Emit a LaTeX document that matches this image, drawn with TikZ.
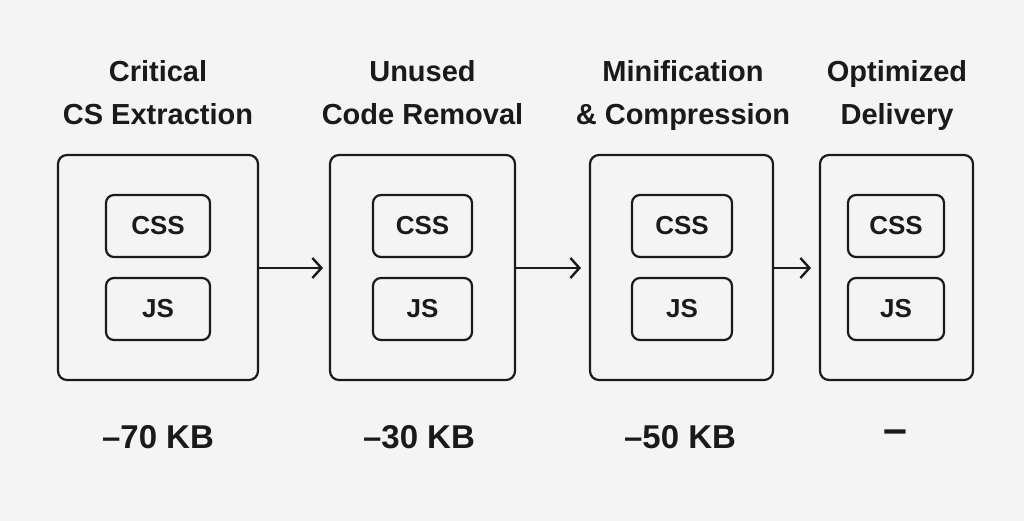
\documentclass[tikz,border=0pt]{standalone}
\usepackage{fontspec}
\setmainfont{Liberation Sans}
\usetikzlibrary{arrows.meta}
\definecolor{bgGray}{HTML}{F4F4F4}
\definecolor{inkGray}{HTML}{1A1A1A}
\begin{document}
\begin{tikzpicture}[x=1pt,y=-1pt]
  \tikzset{StageStyle/.style = {
    draw          = inkGray,
    line width    = 2.2pt,
    rounded corners = 9pt,
    fill          = bgGray
    }
  }
  \tikzset{FileStyle/.style = {
    draw          = inkGray,
    line width    = 2.2pt,
    rounded corners = 8pt,
    text          = inkGray,
    font          = \bfseries\fontsize{26}{26}\selectfont
    }
  }
  \tikzset{TitleStyle/.style = {
    text          = inkGray,
    align         = center,
    font          = \bfseries\fontsize{29}{43}\selectfont
    }
  }
  \tikzset{SaveStyle/.style = {
    text          = inkGray,
    font          = \bfseries\fontsize{33}{33}\selectfont
    }
  }
  \tikzset{FlowStyle/.style = {
    draw          = inkGray,
    line width    = 2.4pt,
    -{Straight Barb[length=9pt,width=20pt]}
    }
  }

  \fill[bgGray] (0,0) rectangle (1024,521);

  % stages
  \node[StageStyle, minimum width=200pt, minimum height=225pt](S1) at (158, 267.5) {};
  \node[StageStyle, minimum width=185pt, minimum height=225pt](S2) at (422.5, 267.5) {};
  \node[StageStyle, minimum width=183pt, minimum height=225pt](S3) at (681.5, 267.5) {};
  \node[StageStyle, minimum width=153pt, minimum height=225pt](S4) at (896.5, 267.5) {};

  % files
  \node[FileStyle, minimum width=104pt, minimum height=62pt](C1) at (158, 226) {CSS};
  \node[FileStyle, minimum width=104pt, minimum height=62pt](J1) at (158, 309) {JS};
  \node[FileStyle, minimum width=99pt, minimum height=62pt](C2) at (422.5, 226) {CSS};
  \node[FileStyle, minimum width=99pt, minimum height=62pt](J2) at (422.5, 309) {JS};
  \node[FileStyle, minimum width=100pt, minimum height=62pt](C3) at (682, 226) {CSS};
  \node[FileStyle, minimum width=100pt, minimum height=62pt](J3) at (682, 309) {JS};
  \node[FileStyle, minimum width=96pt, minimum height=62pt](C4) at (896, 226) {CSS};
  \node[FileStyle, minimum width=96pt, minimum height=62pt](J4) at (896, 309) {JS};

  % arrows
  \draw[FlowStyle](S1.east |- 0,268) -- (323,268);
  \draw[FlowStyle](S2.east |- 0,268) -- (581,268);
  \draw[FlowStyle](S3.east |- 0,268) -- (811,268);

  % titles
  \node[TitleStyle](T1) at (158, 93) {Critical\\CS Extraction};
  \node[TitleStyle](T2) at (422.5, 93) {Unused\\Code Removal};
  \node[TitleStyle](T3) at (683, 96) {Minification\\\& Compression};
  \node[TitleStyle](T4) at (897, 96) {Optimized\\Delivery};

  % savings
  \node[SaveStyle](K1) at (158, 437) {–70 KB};
  \node[SaveStyle](K2) at (419, 437) {–30 KB};
  \node[SaveStyle](K3) at (680, 437) {–50 KB};
  \node[SaveStyle, scale=1.3](K4) at (895, 437) {–};
\end{tikzpicture}
\end{document}
